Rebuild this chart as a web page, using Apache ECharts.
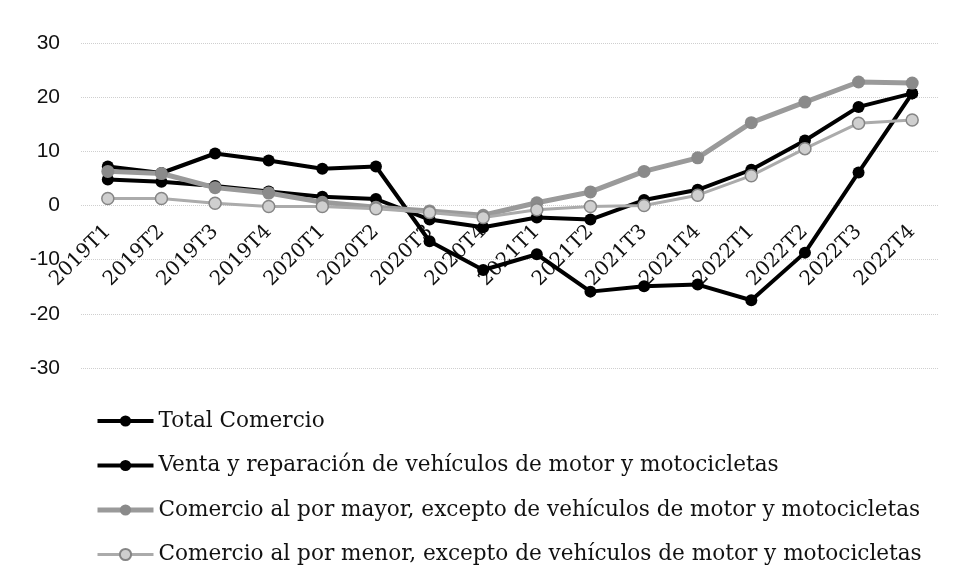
<!DOCTYPE html>
<html>
<head>
<meta charset="utf-8">
<script src="https://cdn.jsdelivr.net/npm/echarts@6/dist/echarts.min.js"></script>
<style>
  html, body { margin: 0; padding: 0; background: #fff; }
  #chart { width: 958px; height: 587px; }
</style>
</head>
<body>
<div id="chart"></div>
<script>
var quarters = ['2019T1', '2019T2', '2019T3', '2019T4', '2020T1', '2020T2', '2020T3', '2020T4',
  '2021T1', '2021T2', '2021T3', '2021T4', '2022T1', '2022T2', '2022T3', '2022T4'];

var totalComercio = [4.8, 4.4, 3.6, 2.6, 1.6, 1.2, -2.6, -4.0, -2.2, -2.6, 1.0, 2.9, 6.6, 12.0, 18.2, 20.7];
var ventaVehiculos = [7.2, 6.0, 9.6, 8.3, 6.8, 7.2, -6.6, -11.9, -9.0, -15.9, -14.9, -14.6, -17.5, -8.7, 6.1, 20.7];
var porMayor = [6.3, 5.9, 3.3, 2.3, 0.6, -0.3, -1.0, -1.8, 0.5, 2.5, 6.3, 8.8, 15.3, 19.1, 22.8, 22.6];
var porMenor = [1.3, 1.3, 0.4, -0.2, -0.2, -0.6, -1.3, -2.2, -0.8, -0.2, 0.0, 1.9, 5.5, 10.5, 15.2, 15.8];

var seriesNames = [
  'Total Comercio',
  'Venta y reparación de vehículos de motor y motocicletas',
  'Comercio al por mayor, excepto de vehículos de motor y motocicletas',
  'Comercio al por menor, excepto de vehículos de motor y motocicletas'
];
var lineWidths = [4, 4, 5, 3];

var chart = echarts.init(document.getElementById('chart'));

var option = {
  animation: false,
  backgroundColor: '#fff',
  grid: { left: 81, right: 19, top: 43, bottom: 219 },
  legend: {
    orient: 'vertical',
    left: 95,
    top: 410,
    padding: 0,
    itemWidth: 56,
    itemHeight: 14,
    itemGap: 22.5,
    textStyle: { fontFamily: 'DejaVu Serif', fontSize: 21.6, color: '#111', lineHeight: 22 },
    data: seriesNames.map(function (n, i) {
      return { name: n, lineStyle: { width: lineWidths[i] } };
    })
  },
  xAxis: {
    type: 'category',
    data: quarters,
    // axis sits on the zero line of the value axis
    offset: -162.5,
    axisLine: { show: false, onZero: false },
    axisTick: { show: false },
    axisLabel: {
      rotate: 45,
      margin: 23,
      interval: 0,
      fontFamily: 'DejaVu Serif',
      fontSize: 20,
      color: '#111'
    }
  },
  yAxis: {
    type: 'value',
    min: -30,
    max: 30,
    interval: 10,
    axisLine: { show: false },
    axisTick: { show: false },
    axisLabel: { margin: 21, fontFamily: 'Liberation Sans', fontSize: 21, color: '#111' },
    splitLine: { lineStyle: { color: '#cfcfcf', type: 'dotted', width: 1 } }
  },
  series: [
    {
      name: seriesNames[0],
      type: 'line',
      data: totalComercio,
      symbol: 'circle',
      symbolSize: 12,
      lineStyle: { color: '#000', width: lineWidths[0] },
      itemStyle: { color: '#000' }
    },
    {
      name: seriesNames[1],
      type: 'line',
      data: ventaVehiculos,
      symbol: 'circle',
      symbolSize: 12,
      lineStyle: { color: '#000', width: lineWidths[1] },
      itemStyle: { color: '#000' }
    },
    {
      name: seriesNames[2],
      type: 'line',
      data: porMayor,
      symbol: 'circle',
      symbolSize: 13,
      lineStyle: { color: '#9a9a9a', width: lineWidths[2] },
      itemStyle: { color: '#8a8a8a' }
    },
    {
      name: seriesNames[3],
      type: 'line',
      data: porMenor,
      symbol: 'circle',
      symbolSize: 12,
      lineStyle: { color: '#ababab', width: lineWidths[3] },
      itemStyle: { color: '#cfcfcf', borderColor: '#858585', borderWidth: 1.5 }
    }
  ]
};

chart.setOption(option);
</script>
</body>
</html>
